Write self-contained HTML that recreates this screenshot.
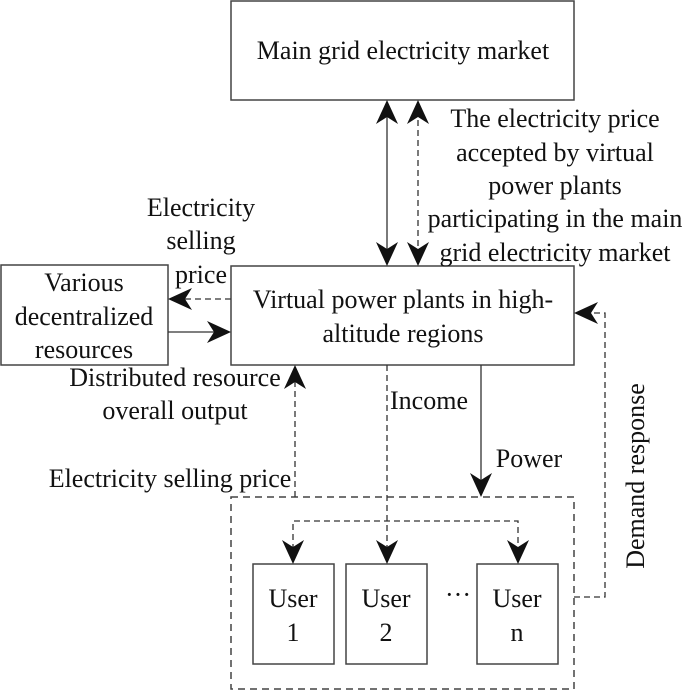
<!DOCTYPE html>
<html><head><style>body{margin:0;background:#fff}svg{display:block}text{font-family:"Liberation Serif",serif;font-size:26px;fill:#111;text-anchor:middle}</style></head>
<body>
<svg width="685" height="691" viewBox="0 0 685 691">
<g fill="none" stroke="#444" stroke-width="1.5">
<rect x="231" y="1" width="343" height="99"/>
<rect x="231" y="266" width="343" height="99"/>
<rect x="1" y="265" width="167" height="100"/>
<rect x="253" y="564" width="81" height="100"/>
<rect x="346" y="564" width="81" height="100"/>
<rect x="477" y="564" width="81" height="100"/>
<rect x="231" y="497" width="343" height="192" stroke-dasharray="7,5"/>
</g>
<g stroke="#333" stroke-width="1.3" fill="none">
<line x1="387" y1="110" x2="387" y2="256"/>
<line x1="418" y1="110" x2="418" y2="256" stroke-dasharray="6,4"/>
<line x1="231" y1="299" x2="180" y2="299" stroke-dasharray="6,4"/>
<line x1="168" y1="332" x2="220" y2="332"/>
<line x1="295" y1="497" x2="295" y2="378" stroke-dasharray="6,4"/>
<line x1="481" y1="365" x2="481" y2="485"/>
<line x1="387" y1="365" x2="387" y2="550" stroke-dasharray="6,4"/>
<path d="M293,550 V521 H518 V550" stroke-dasharray="6,4"/>
<path d="M574,597 H605 V313 H585" stroke-dasharray="6,4"/>
</g>
<g fill="#111">
<polygon points="376,124 387,100 398,124 387,117"/>
<polygon points="407,124 418,100 429,124 418,117"/>
<polygon points="376,242 387,266 398,242 387,249"/>
<polygon points="407,242 418,266 429,242 418,249"/>
<polygon points="470,473 481,497 492,473 481,480"/>
<polygon points="282,540 293,564 304,540 293,547"/>
<polygon points="376,540 387,564 398,540 387,547"/>
<polygon points="507,540 518,564 529,540 518,547"/>
<polygon points="284,389 295,365 306,389 295,382"/>
<polygon points="192,288 168,299 192,310 185,299"/>
<polygon points="207,321 231,332 207,343 214,332"/>
<polygon points="598,302 574,313 598,324 591,313"/>
</g>
<text x="403" y="59">Main grid electricity market</text>
<text x="555" y="127">The electricity price</text>
<text x="555" y="161">accepted by virtual</text>
<text x="555" y="194">power plants</text>
<text x="555" y="227">participating in the main</text>
<text x="555" y="261">grid electricity market</text>
<text x="201" y="216">Electricity</text>
<text x="201" y="249">selling</text>
<text x="201" y="283">price</text>
<text x="84" y="291">Various</text>
<text x="84" y="325">decentralized</text>
<text x="84" y="358">resources</text>
<text x="403" y="308">Virtual power plants in high-</text>
<text x="403" y="342">altitude regions</text>
<text x="175" y="386">Distributed resource</text>
<text x="175" y="419">overall output</text>
<text x="170" y="487">Electricity selling price</text>
<text x="429" y="409">Income</text>
<text x="529" y="467">Power</text>
<text x="293" y="607">User</text><text x="293" y="641">1</text>
<text x="386" y="607">User</text><text x="386" y="641">2</text>
<text x="517" y="607">User</text><text x="517" y="641">n</text>
<text x="458" y="603">···</text>
<text transform="translate(644,476) rotate(-90)">Demand response</text>
</svg>
</body></html>
